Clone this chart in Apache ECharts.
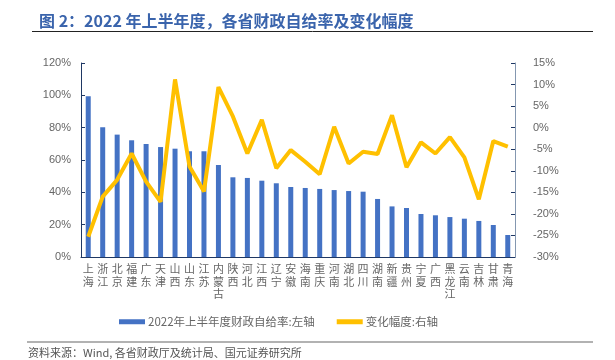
<!DOCTYPE html>
<html><head><meta charset="utf-8">
<script src="https://cdn.jsdelivr.net/npm/echarts@6/dist/echarts.min.js"></script>
<style>html,body{margin:0;padding:0;background:#fff}#c{width:615px;height:360px}</style>
</head><body><div id="c"></div>
<script>
const categories = ['上海','浙江','北京','福建','广东','天津','山西','山东','江苏','内蒙古','陕西','河北','江西','辽宁','安徽','海南','重庆','河南','湖北','四川','湖南','新疆','贵州','宁夏','广西','黑龙江','云南','吉林','甘肃','青海'];
const selfSufficiency = [99.5,80.2,75.7,72.2,69.9,68.0,67.0,65.4,65.4,56.9,49.3,48.9,47.2,45.6,43.3,42.7,42.1,41.4,40.8,40.4,35.9,31.3,30.3,26.6,25.8,24.7,23.7,22.3,19.8,13.6];
const changeRate = [-25.3,-16.0,-12.1,-6.0,-12.5,-17.2,11.2,-9.0,-14.8,9.4,2.6,-6.0,1.8,-9.4,-5.2,-7.9,-10.8,0.2,-8.3,-5.6,-6.1,2.9,-9.2,-3.4,-6.0,-2.2,-6.9,-16.6,-3.1,-4.4];
const leftTicks = {min:0, max:120, interval:20};
const rightTicks = {min:-30, max:15, interval:5};
const barName = '2022年上半年度财政自给率:左轴';
const lineName = '变化幅度:右轴';

const chart = echarts.init(document.getElementById('c'));
const txt = '#666';
chart.setOption({
  animation:false,
  title:{text:'图 2：2022 年上半年度，各省财政自给率及变化幅度', left:34, top:8,
    textStyle:{fontSize:16, fontWeight:'bold', color:'#3a64ac', fontFamily:'"Noto Sans CJK SC", sans-serif'}},
  graphic:[
    {type:'line', shape:{x1:32,y1:31.5,x2:593,y2:31.5}, style:{stroke:'#222', lineWidth:1}},
    {type:'line', shape:{x1:27,y1:342,x2:593,y2:342}, style:{stroke:'#666', lineWidth:1.2}},
    {type:'text', left:28, top:347, style:{text:'资料来源：Wind, 各省财政厅及统计局、国元证券研究所', fontSize:11, fill:'#555', fontFamily:'"Noto Sans CJK SC", sans-serif'}}
  ],
  legend:{top:311, left:114, itemGap:22, itemWidth:26, itemHeight:5, icon:'rect',
    textStyle:{fontSize:11.5, color:txt, fontFamily:'"Noto Sans CJK SC", sans-serif', padding:[0,0,0,-2]},
    data:[barName, lineName]},
  grid:{left:81, right:100, top:63, bottom:103},
  xAxis:{type:'category', data:categories, boundaryGap:true,
    axisLine:{lineStyle:{color:'#1f3864', width:1}},
    axisTick:{inside:true, length:4, alignWithLabel:false, lineStyle:{color:'#1f3864'}},
    axisLabel:{interval:0, color:txt, fontSize:11, lineHeight:12.5, margin:6,
      fontFamily:'"Noto Sans CJK SC", sans-serif',
      formatter:v=>v.split('').join('\n')}},
  yAxis:[
    {type:'value', min:leftTicks.min, max:leftTicks.max, interval:leftTicks.interval,
      axisLine:{show:true, lineStyle:{color:'#1f3864', width:1}},
      axisTick:{show:true, inside:true, length:4, lineStyle:{color:'#1f3864'}},
      splitLine:{show:false},
      axisLabel:{color:txt, fontSize:11, margin:10, formatter:v=>v+'%', fontFamily:'Arial, "Liberation Sans", sans-serif'}},
    {type:'value', min:rightTicks.min, max:rightTicks.max, interval:rightTicks.interval,
      position:'right',
      axisLine:{show:true, lineStyle:{color:'#8497b0', width:1}},
      axisTick:{show:true, inside:true, length:4, lineStyle:{color:'#1f3864'}},
      splitLine:{show:false},
      axisLabel:{color:txt, fontSize:11, margin:18, formatter:v=>v+'%', fontFamily:'Arial, "Liberation Sans", sans-serif'}}
  ],
  series:[
    {name:barName, type:'bar', data:selfSufficiency, yAxisIndex:0, barWidth:5,
      itemStyle:{color:'#4472c4'}},
    {name:lineName, type:'line', data:changeRate, yAxisIndex:1, symbol:'none',
      lineStyle:{color:'#ffc000', width:4}, itemStyle:{color:'#ffc000'}}
  ]
});
</script></body></html>
